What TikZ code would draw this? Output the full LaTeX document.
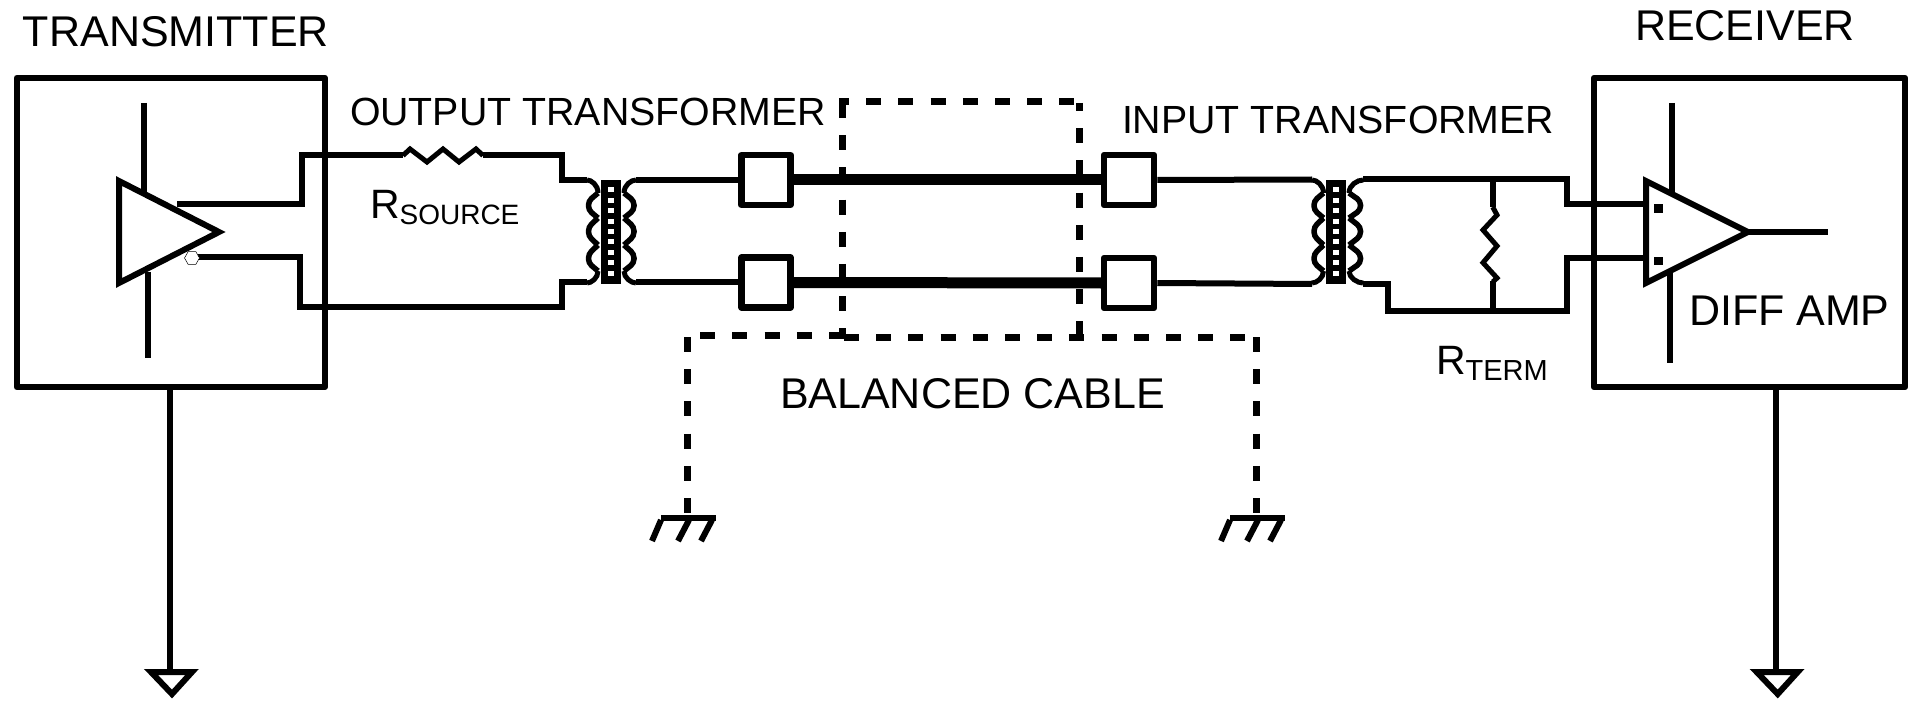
\documentclass[tikz,border=0pt]{standalone}
\usepackage{fontspec}
\usetikzlibrary{shapes.geometric}
\setmainfont{Liberation Sans}
\tikzset{
  wire/.style={line width=6pt,line join=miter},
  box/.style={line width=6.5pt,line join=round},
  cab/.style={line width=11pt},
  shield/.style={line width=7pt,dash pattern=on 15pt off 17.2pt},
  label/.style={font=\fontsize{39.3}{39.3}\selectfont,anchor=base west,inner sep=0pt,outer sep=0pt},
  biglabel/.style={label,font=\fontsize{43}{43}\selectfont},
  coilline/.style={line width=5pt},
  lobe/.style={line width=5.5pt,rounded corners=4pt},
  pt/.style={inner sep=0pt,minimum size=0pt}
}
\newcommand{\coil}[3]{% inner x, outer x, end x
  \draw[coilline] (#3,180) .. controls (#3*0.6+#1*0.4,180) and (#1,185) .. (#1,193);
  \draw[lobe] (#1,193) -- (#2,201) -- (#2,210) -- (#1,218);
  \draw[lobe] (#1,218) -- (#2,227) -- (#2,236) -- (#1,245);
  \draw[lobe] (#1,245) -- (#2,254) -- (#2,263) -- (#1,271);
  \draw[coilline] (#1,271) .. controls (#1,278) and (#3*0.6+#1*0.4,283) .. (#3,283);
}
\newcommand{\core}[1]{%
  \fill (#1,180) rectangle (#1+20,284);
  \foreach \i in {0,...,8} \fill[white] (#1+7,187.5+10.4*\i) rectangle (#1+13,192.5+10.4*\i);
}
\newcommand{\earth}[2]{%
  \draw[wire] (#1,#2) -- (#1,672);
  \draw[wire,line join=miter] (#1-19,672) -- (#1+22,672) -- (#1+2,694) -- cycle;
}
\begin{document}
\begin{tikzpicture}[x=1pt,y=-1pt]
\useasboundingbox (0,0) rectangle (1913,703);
% boxes
\node[draw,box,pt,minimum width=308pt,minimum height=309pt] (tx) at (170.8,232.5) {};
\node[draw,box,pt,minimum width=311pt,minimum height=309pt] (rx) at (1749.5,232.5) {};
% transmitter amp
\draw[wire] (119,181) -- (119,283) -- (219,232) -- cycle;
\draw[wire] (144.3,103) -- (144.3,195);
\draw[wire] (147.5,272) -- (147.5,358);
\draw[wire] (177,204) -- (301.5,204) -- (301.5,155.5) -- (403,155.5);
\draw[wire] (198,256.7) -- (300,256.7) -- (300,307) -- (561.7,307) -- (561.7,282) -- (587,282);
\node[draw,regular polygon,regular polygon sides=6,line width=.5pt,fill=white,minimum size=15pt,inner sep=0pt] (bub) at (192,258) {};
% source resistor
\draw[coilline] (403,155.5) -- (410,149) -- (427,162) -- (443,149) -- (459,162) -- (476,149) -- (483,155.5);
\draw[wire] (483,155.5) -- (561.7,155.5) -- (561.7,180) -- (587,180);
% output transformer
\coil{598}{588.5}{587}
\core{601}
\coil{624}{634}{636}
\draw[wire] (636,180) -- (742,180);
\draw[wire] (636,282) -- (742,282);
% cable boxes
\node[draw,box,pt,minimum width=49pt,minimum height=50pt] (a1) at (766,180) {};
\node[draw,box,pt,minimum width=49pt,minimum height=50pt] (a2) at (766,282.5) {};
\node[draw,box,pt,minimum width=50pt,minimum height=50pt] (b1) at (1129,180) {};
\node[draw,box,pt,minimum width=50pt,minimum height=50pt] (b2) at (1129,283) {};
\draw[cab] (a1.east) -- (b1.west);
\draw[cab] (a2.east) -- (b2.west);
% input transformer
\draw[wire] (b1.east) -- (1312,179.5);
\draw[wire] (b2.east) -- (1312,284);
\coil{1323.5}{1314}{1312}
\core{1326}
\coil{1349}{1360.5}{1363}
\draw[wire] (1363,179.5) -- (1567,179.5) -- (1567,204.5) -- (1646,204.5);
\draw[wire] (1363,284) -- (1388,284) -- (1388,310.5) -- (1567,310.5) -- (1567,258) -- (1646,258);
% term resistor
\draw[wire] (1492.7,179.5) -- (1492.7,207);
\draw[coilline] (1492.7,207) -- (1497,215) -- (1483,230) -- (1497,246) -- (1483,262.7) -- (1497,278) -- (1492.7,282);
\draw[wire] (1492.7,281) -- (1492.7,310.5);
% receiver amp
\draw[wire] (1646,181) -- (1646,283) -- (1748,232) -- cycle;
\draw[wire] (1672,103) -- (1672,195);
\draw[wire] (1670,270) -- (1670,363);
\draw[wire] (1748,232) -- (1828,232);
\fill (1654,204) rectangle (1662.7,212.7);
\fill (1654,257) rectangle (1662.7,265.5);
% grounds
\earth{170}{387}
\earth{1775.7}{387}
% shield
\draw[shield] (842,103) -- (842,338);
\draw[shield,dash phase=5pt] (839,102) -- (1082,102);
\draw[shield,dash phase=7pt] (1079,103) -- (1079,337);
\draw[shield,dash phase=19pt] (687,335) -- (846,335);
\draw[shield] (844,337) -- (1257,337);
\draw[shield] (687.5,337) -- (687.5,515);
\draw[shield] (1256.7,337) -- (1256.7,515);
\foreach \x in {0,569} {
  \draw[line width=6pt] (661+\x,518) -- (716+\x,518);
  \draw[line width=6pt] (661+\x,520) -- (652+\x,541);
  \draw[line width=6pt] (689+\x,520) -- (678+\x,541);
  \draw[line width=6pt] (712+\x,520) -- (701+\x,541);
}
% labels
\node[biglabel] (t1) at (23,47) {TRANSMITTER};
\node[biglabel] (t2) at (1635,41) {RECEIVER};
\node[label] (t3) at (350,125.5) {OUTPUT TRANSFORMER};
\node[label] (t4) at (1122,134) {INPUT TRANSFORMER};
\node[label] (t5) at (370,219) {\fontsize{41}{41}\selectfont R\raisebox{-6pt}{\fontsize{28}{28}\selectfont SOURCE}};
\node[label] (t6) at (1436,374) {\fontsize{41}{41}\selectfont R\raisebox{-6pt}{\fontsize{29}{29}\selectfont TERM}};
\node[biglabel] (t7) at (780,408) {BALANCED CABLE};
\node[biglabel] (t8) at (1689,325) {DIFF AMP};
\end{tikzpicture}
\end{document}
